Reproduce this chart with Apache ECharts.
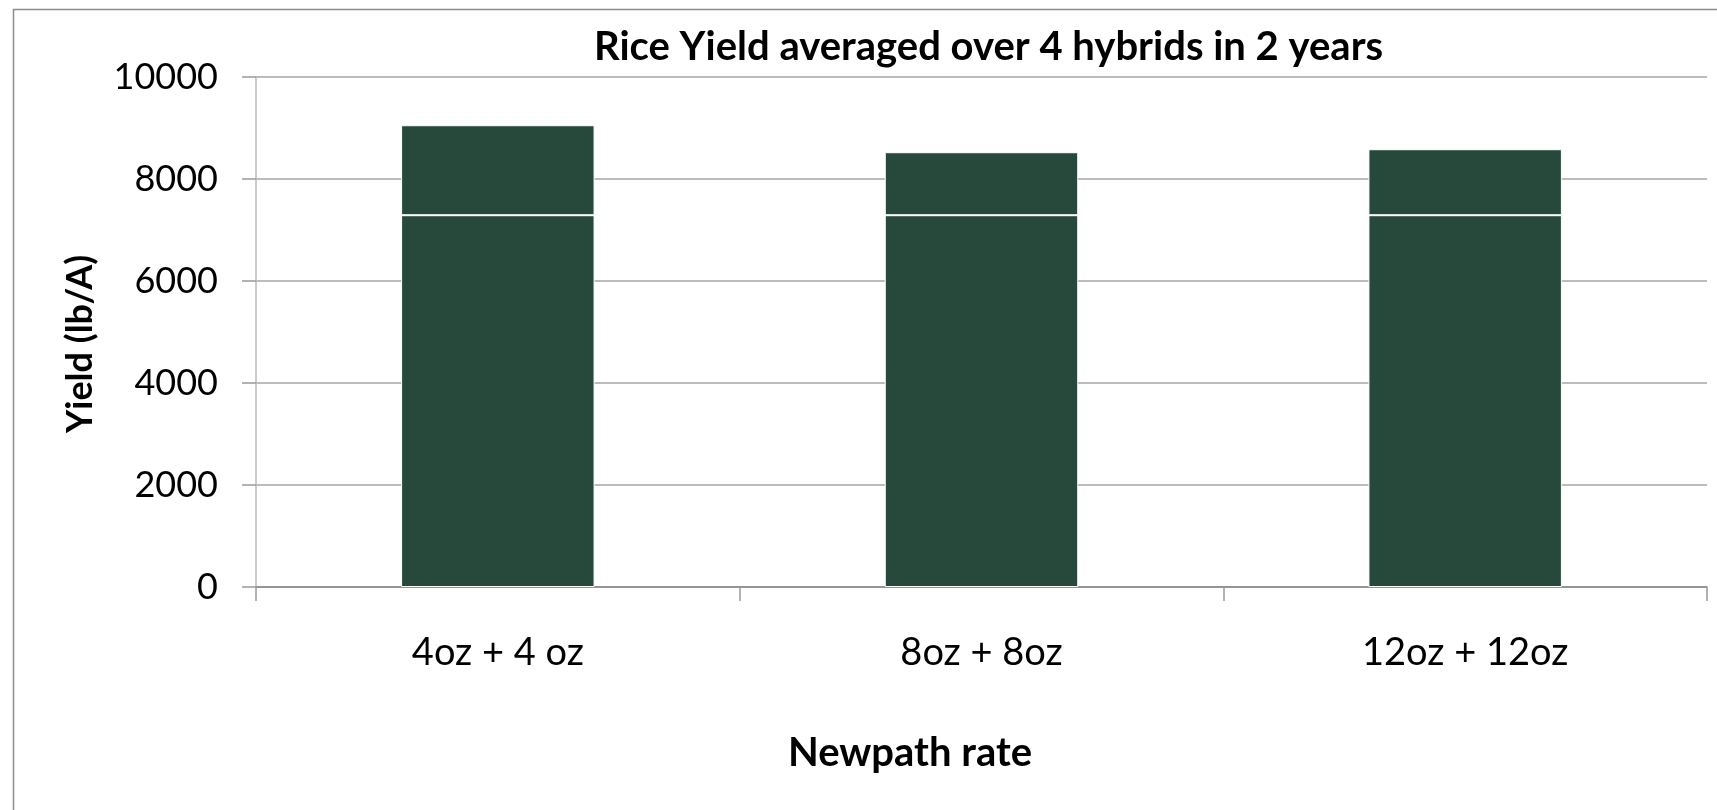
<!DOCTYPE html>
<html>
<head>
<meta charset="utf-8">
<script src="https://cdn.jsdelivr.net/npm/echarts@6/dist/echarts.min.js"></script>
<style>
html,body{margin:0;padding:0;background:#fff;}
#chart{width:1717px;height:810px;}
</style>
</head>
<body>
<div id="chart"></div>
<script>
const categories = ['4oz + 4 oz', '8oz + 8oz', '12oz + 12oz'];
const lowerSegment = [7290, 7290, 7290];
const upperSegment = [1764, 1235, 1294];
const yTicks = [0, 2000, 4000, 6000, 8000, 10000];

const FONT = 'Lato';
const chart = echarts.init(document.getElementById('chart'), null, {renderer: 'canvas'});
const option = {
  backgroundColor: '#fff',
  animation: false,
  graphic: [{
    type: 'rect', left: 11, top: 7, z: -10,
    shape: {width: 1740, height: 840},
    style: {fill: 'none', stroke: '#8c8c8c', lineWidth: 1.5}
  }],
  title: {
    text: 'Rice Yield averaged over 4 hybrids in 2 years',
    left: 594, top: 27,
    padding: 0,
    textStyle: {fontFamily: FONT, fontWeight: 'bold', fontSize: 40, color: '#000'}
  },
  grid: {left: 256, right: 10, top: 77, bottom: 223, containLabel: false},
  xAxis: {
    type: 'category',
    data: categories,
    name: 'Newpath rate',
    nameLocation: 'middle',
    nameGap: 146,
    nameTextStyle: {fontFamily: FONT, fontWeight: 'bold', fontSize: 40, color: '#000', padding: [0, 143, 0, 0]},
    axisLine: {lineStyle: {color: '#888', width: 1.5}},
    axisTick: {show: true, length: 14, lineStyle: {color: '#999', width: 1.5}},
    axisLabel: {fontFamily: FONT, fontSize: 38, color: '#000', margin: 47}
  },
  yAxis: {
    type: 'value',
    min: 0, max: 10000, interval: 2000,
    name: 'Yield (lb/A)',
    nameLocation: 'middle',
    nameGap: 158,
    nameRotate: 90,
    nameTextStyle: {fontFamily: FONT, fontWeight: 'bold', fontSize: 36, color: '#000', padding: [0, 24, 0, 0]},
    axisLine: {show: true, lineStyle: {color: '#bbb', width: 1.5}},
    axisTick: {show: true, length: 14, lineStyle: {color: '#999', width: 1.5}},
    axisLabel: {
      fontFamily: FONT, fontSize: 36, color: '#000', margin: 38,
      formatter: v => yTicks.includes(v) ? String(v) : ''
    },
    splitLine: {lineStyle: {color: '#a6a6a6', width: 1.5}}
  },
  series: [
    {
      type: 'bar', stack: 'yield', data: lowerSegment, barWidth: '40%',
      itemStyle: {color: '#26493B', borderColor: '#fff', borderWidth: 1}
    },
    {
      type: 'bar', stack: 'yield', data: upperSegment, barWidth: '40%',
      itemStyle: {color: '#26493B', borderColor: '#fff', borderWidth: 1}
    }
  ]
};
chart.setOption(option);
</script>
</body>
</html>
